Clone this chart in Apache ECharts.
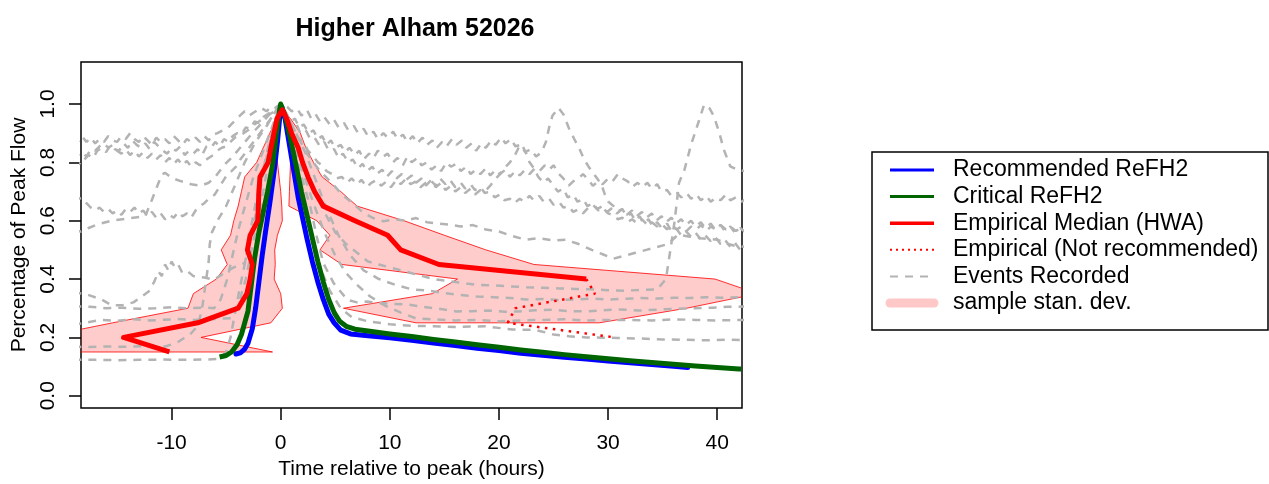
<!DOCTYPE html>
<html><head><meta charset="utf-8">
<script src="https://cdn.jsdelivr.net/npm/echarts@6/dist/echarts.min.js"></script>
<style>html,body{margin:0;padding:0;background:#fff}#c{width:1269px;height:484px}</style>
</head><body><div id="c"></div>
<script>
// ---------- data (hours relative to peak, fraction of peak flow) ----------
const chartTitle = 'Higher Alham 52026';
const xTicks = [-10, 0, 10, 20, 30, 40];
const yTicks = [0, 0.2, 0.4, 0.6, 0.8, 1.0];
const legendLabels = ['Recommended ReFH2','Critical ReFH2','Empirical Median (HWA)','Empirical (Not recommended)','Events Recorded','sample stan. dev.'];

const recommendedReFH2 = [[-4.1,0.143],[-3.7,0.147],[-3.3,0.16],[-3.0,0.18],[-2.6,0.23],[-2.3,0.3],[-2.0,0.39],[-1.7,0.48],[-1.4,0.56],[-1.0,0.66],[-0.6,0.77],[-0.3,0.87],[-0.1,0.95],[0.1,0.99],
 [0.4,0.95],[0.8,0.86],[1.2,0.77],[1.6,0.68],[2.0,0.61],[2.4,0.54],[2.9,0.46],[3.4,0.39],[3.9,0.33],[4.4,0.28],[4.9,0.25],[5.5,0.225],[6.4,0.212],[8,0.206],[10,0.199],[12,0.19],[14,0.181],[16,0.172],[18,0.163],[20,0.155],[22,0.146],[24,0.139],[26,0.132],[28,0.126],[30,0.119],[32,0.113],[34,0.107],[36,0.101],[37.3,0.097]];
const criticalReFH2 = [[-5.6,0.133],[-5.0,0.138],[-4.5,0.15],[-4.0,0.175],[-3.6,0.21],[-3.3,0.25],[-3.0,0.29],[-2.7,0.38],[-2.4,0.47],[-2.0,0.56],[-1.6,0.63],[-1.2,0.7],[-0.75,0.79],[-0.35,0.91],[-0.1,0.98],[0,1.0],
 [0.4,0.96],[0.9,0.88],[1.4,0.79],[1.9,0.7],[2.4,0.62],[2.9,0.54],[3.4,0.46],[3.9,0.39],[4.4,0.33],[4.9,0.285],[5.4,0.255],[6.0,0.238],[6.8,0.228],[8,0.222],[10,0.212],[12,0.203],[14,0.193],[16,0.184],[18,0.175],[20,0.166],[22,0.157],[24,0.149],[26,0.141],[28,0.134],[30,0.127],[32,0.12],[34,0.114],[36,0.108],[38,0.102],[40,0.097],[42,0.092],[42.2,0.0915]];

// empirical hydrograph: rising limb and falling limb at flow levels
const riseLevels = [0.15,0.20,0.25,0.30,0.35,0.40,0.45,0.50,0.55,0.60,0.65,0.70,0.75,0.80,0.85,0.90,0.95,0.98];
const riseMedian = [-10.2,-14.4,-7.6,-3.9,-3.1,-2.8,-2.6,-3.05,-2.8,-2.1,-2.05,-2.0,-1.9,-1.15,-0.9,-0.62,-0.34,0.15];
const riseLow    = [-19.7,-22.0,-15.4,-8.5,-8.0,-5.9,-4.9,-5.45,-4.6,-4.3,-3.9,-3.6,-3.3,-2.2,-1.6,-1.0,-0.35,0.15];
const riseHigh   = [-0.75,-7.3,-0.9,0.15,0.0,-0.6,-0.5,-0.55,-0.3,0.15,0.1,0.0,-0.15,-0.3,-0.45,-0.3,-0.1,0.15];
const fallLevels = [0.98,0.95,0.90,0.85,0.80,0.75,0.70,0.65,0.60,0.55,0.50,0.45,0.40,0.35,0.30,0.25,0.20];
const fallMedian = [0.15,0.55,1.0,1.6,2.0,2.5,3.1,3.9,6.8,9.8,11.0,14.5,28.0,28.8,21.5,20.8,30.6];
const fallLow    = [0.15,0.3,0.6,0.9,0.9,0.85,0.8,0.75,3.3,4.5,3.6,5.6,16.2,13.9,5.75,12.4,null];
const fallHigh   = [0.15,0.9,1.8,2.3,3.0,3.8,5.5,7.0,11.3,15.0,18.8,23.2,39.8,43.7,37.2,29.2,null];
const recommendedLowestLevel = 0.40;

// recorded events
const eventA = [[-19,0.124],[-17,0.123],[-15,0.122],[-13,0.123],[-11,0.124],[-9,0.123],[-7,0.124],[-5.6,0.126],[-5.0,0.15],[-4.6,0.2],[-4.2,0.28],[-3.8,0.36],[-3.3,0.45],[-2.8,0.56],[-2.3,0.66],[-1.7,0.76],[-1.1,0.86],[-0.5,0.94],[0,1.0],
 [0.6,0.93],[1.2,0.82],[2.0,0.68],[2.8,0.55],[3.6,0.44],[4.5,0.36],[5.5,0.3],[6.5,0.27],[8,0.255],[10,0.245],[12,0.24],[14,0.238],[16,0.236],[18.8,0.238],[21.2,0.227],[23.3,0.226],[25,0.21],[26.4,0.204],[28,0.2],[30.9,0.198],[33,0.196],[35,0.193],[37,0.192],[39,0.19],[41,0.192],[43,0.19]];
const eventB = [[-19,0.168],[-17.5,0.167],[-16,0.169],[-14.2,0.168],[-12.5,0.17],[-10.6,0.169],[-9.6,0.18],[-9.1,0.192],[-8.3,0.21],[-7.6,0.24],[-7.2,0.3],[-6.9,0.38],[-6.6,0.46],[-6.5,0.52],[-6.3,0.56],[-5.8,0.6],[-5.0,0.65],[-4.2,0.72],[-3.3,0.8],[-2.3,0.87],[-1.2,0.93],[-0.4,0.98],[0,1.0],
 [0.5,0.95],[1.2,0.86],[2,0.77],[3,0.66],[4,0.56],[5,0.48],[6,0.42],[7,0.38],[8.2,0.34],[9.5,0.31],[11,0.285],[12.4,0.265],[14,0.262],[16,0.258],[18,0.26],[20,0.255],[22,0.258],[24,0.26],[26,0.262],[28,0.258],[30,0.26],[32,0.26],[34,0.258],[36,0.262],[38,0.26],[40,0.258],[42,0.26],[43,0.26]];
const eventC = [[-19,0.243],[-18,0.25],[-16.4,0.26],[-15,0.257],[-13.5,0.262],[-12,0.258],[-10.9,0.26],[-9.5,0.263],[-8,0.26],[-6.8,0.262],[-5.6,0.264],[-4.5,0.266],[-3.9,0.31],[-3.2,0.4],[-2.4,0.55],[-1.6,0.7],[-0.9,0.85],[-0.3,0.95],[0,0.99],
 [0.5,0.93],[1.2,0.84],[2,0.74],[2.7,0.65],[3.3,0.546],[3.9,0.455],[4.85,0.386],[6.1,0.329],[7.0,0.32],[7.9,0.323],[9,0.318],[10.2,0.315],[11.8,0.312],[13,0.305],[14.5,0.298],[16.1,0.289],[17.5,0.29],[19,0.292],[20.5,0.288],[21.8,0.289],[23,0.292],[24.85,0.295],[26.5,0.29],[27.9,0.289],[29.5,0.293],[31,0.296],[32.8,0.292],[34.5,0.295],[36,0.298],[37.8,0.3],[39.5,0.302],[41,0.305],[43,0.306]];
const eventD = [[-19,0.306],[-17.5,0.305],[-16,0.3],[-14.5,0.302],[-13,0.298],[-11.5,0.3],[-10,0.303],[-8.5,0.3],[-7,0.302],[-6.1,0.3],[-5.5,0.33],[-4.9,0.4],[-4.3,0.5],[-3.8,0.58],[-3.2,0.66],[-2.5,0.75],[-1.7,0.83],[-0.9,0.91],[-0.3,0.97],[0,1.0],
 [0.6,0.96],[1.4,0.9],[2.3,0.83],[3.2,0.74],[4.2,0.64],[5.3,0.55],[6.4,0.48],[7.6,0.43],[9,0.4],[10.5,0.38],[12,0.365],[13.6,0.36],[15,0.352],[16.5,0.345],[18,0.34],[19.5,0.338],[21,0.335],[22.5,0.33],[24,0.332],[25.5,0.328],[27,0.33],[28.5,0.333],[30,0.33],[31.5,0.332],[33,0.335],[34.5,0.333],[36,0.336],[37.5,0.335],[39,0.338],[40.5,0.336],[42,0.338],[43,0.34]];
const eventE = [[-19,0.352],[-18,0.35],[-16.4,0.33],[-15.5,0.31],[-14.5,0.31],[-13.5,0.32],[-12.1,0.357],[-11.6,0.39],[-11.2,0.426],[-10.9,0.41],[-10.6,0.45],[-10.3,0.43],[-10.0,0.46],[-9.7,0.44],[-9.4,0.45],[-9.0,0.42],[-8.5,0.425],[-8,0.41],[-7,0.405],[-6.1,0.398],[-5.2,0.42],[-4.3,0.44],[-3.3,0.455],[-2.6,0.56],[-2,0.68],[-1.4,0.8],[-0.8,0.9],[-0.3,0.97],[0,1.0],
 [0.5,0.95],[1.2,0.88],[2,0.8],[3,0.71],[4,0.63],[5,0.56],[6,0.52],[7,0.49],[8,0.46],[9,0.45],[10,0.44],[11,0.43],[12,0.42],[13,0.41],[14,0.4],[15,0.395],[16,0.39],[17,0.385],[18,0.38],[19.5,0.378],[21,0.375],[22.5,0.372],[24,0.37],[25.5,0.368],[27,0.366],[28.5,0.365],[30,0.362],[31.5,0.36],[33,0.363],[34.5,0.364],[35.3,0.4],[35.5,0.45],[35.75,0.51],[36.1,0.6],[36.5,0.73],[37,0.775],[37.6,0.86],[38.3,0.94],[38.8,0.998],[39.3,0.985],[39.7,0.958],[40.2,0.9],[40.6,0.844],[41.2,0.786],[41.8,0.775],[42.5,0.77]];
const eventF = [[-19,0.565],[-18.3,0.563],[-17.6,0.575],[-16.8,0.587],[-15.5,0.6],[-14.5,0.605],[-13.5,0.61],[-12.4,0.615],[-12.1,0.645],[-11.8,0.672],[-11.3,0.72],[-10.9,0.758],[-10.6,0.764],[-9.9,0.745],[-9.1,0.735],[-8.2,0.725],[-7.3,0.72],[-6.6,0.73],[-6,0.75],[-5.2,0.79],[-4.4,0.82],[-3.5,0.86],[-2.6,0.9],[-1.6,0.94],[-0.7,0.98],[0,1.0],
 [0.6,0.96],[1.4,0.9],[2.4,0.83],[3.6,0.77],[4.85,0.723],[5.6,0.69],[6.4,0.666],[7.5,0.63],[8.4,0.61],[9.4,0.598],[10.4,0.605],[11.4,0.6],[12.4,0.609],[13.4,0.595],[14.4,0.59],[15.5,0.586],[16.5,0.58],[17.6,0.585],[18.8,0.57],[20,0.563],[21,0.55],[22.4,0.535],[23.6,0.54],[25,0.532],[26.1,0.535],[27.3,0.52],[28.5,0.5],[29.5,0.485],[30.5,0.47],[31.5,0.48],[32.5,0.49],[33.5,0.5],[34.5,0.51],[35.5,0.52],[36.4,0.552],[37.5,0.545],[38.5,0.54],[40,0.535],[41,0.52],[41.8,0.512],[43,0.51]];
const eventG = [[-19,0.68],[-18.6,0.675],[-18.2,0.678],[-17.8,0.66],[-17.4,0.645],[-17.0,0.635],[-16.6,0.645],[-16.2,0.63],[-15.8,0.64],[-15.4,0.625],[-15.0,0.635],[-14.6,0.62],[-14.2,0.64],[-13.8,0.63],[-13.4,0.645],[-13.0,0.625],[-12.6,0.635],[-12.2,0.615],[-11.8,0.63],[-11.4,0.61],[-11.0,0.625],[-10.6,0.605],[-10.2,0.62],[-9.8,0.61],[-9.4,0.63],[-9.0,0.615],[-8.6,0.625],[-8.2,0.61],[-7.8,0.635],[-7.4,0.65],[-7.0,0.66],[-6.6,0.675],[-6.06,0.689],[-5.7,0.71],[-5.3,0.735],[-4.9,0.758],[-4.5,0.77],[-4.1,0.785],[-3.7,0.81],[-3.3,0.83],[-2.9,0.85],[-2.5,0.87],[-2.1,0.89],[-1.7,0.91],[-1.3,0.93],[-0.9,0.95],[-0.5,0.97],[0,1.0],
 [0.5,0.95],[0.9,0.92],[1.3,0.9],[1.7,0.88],[2.1,0.87],[2.5,0.84],[3.0,0.82],[3.4,0.8],[3.8,0.79],[4.2,0.77],[4.7,0.76],[5.1,0.745],[5.6,0.75],[6.1,0.73],[6.5,0.745],[7.0,0.725],[7.4,0.74],[7.9,0.715],[8.3,0.73],[8.8,0.74],[9.2,0.72],[9.7,0.735],[10.1,0.715],[10.6,0.74],[11.0,0.725],[11.5,0.745],[11.9,0.725],[12.4,0.735],[12.8,0.715],[13.3,0.73],[13.7,0.74],[14.2,0.72],[14.6,0.745],[15.1,0.725],[15.5,0.74],[16.0,0.715],[16.5,0.73],[16.9,0.71],[17.4,0.725],[17.8,0.705],[18.3,0.715],[18.7,0.695],[19.2,0.7],[19.6,0.68],[20.1,0.69],[20.5,0.67],[21.0,0.675],[21.4,0.66],[21.9,0.675],[22.3,0.665],[22.8,0.685],[23.2,0.67],[23.7,0.685],[24.1,0.665],[24.6,0.675],[25.0,0.655],[25.5,0.665],[25.9,0.645],[26.4,0.65],[26.8,0.63],[27.3,0.64],[27.7,0.625],[28.2,0.645],[28.6,0.655],[29.1,0.635],[29.5,0.645],[30.0,0.625],[30.4,0.62],[30.9,0.605],[31.3,0.61],[31.8,0.595],[32.2,0.605],[32.7,0.59],[33.1,0.605],[33.6,0.585],[34.0,0.595],[34.5,0.58],[34.9,0.59],[35.4,0.57],[35.8,0.585],[36.3,0.57],[36.7,0.58],[37.2,0.565],[37.6,0.58],[38.1,0.57],[38.5,0.585],[39.0,0.565],[39.4,0.58],[39.9,0.57],[40.3,0.585],[40.8,0.57],[41.2,0.58],[41.7,0.565],[42.2,0.575],[42.7,0.565]];
const eventH = [[-19,0.795],[-18.6,0.8],[-18.3,0.792],[-18.0,0.81],[-17.6,0.825],[-17.2,0.815],[-16.8,0.84],[-16.4,0.85],[-16.0,0.835],[-15.6,0.86],[-15.2,0.845],[-14.8,0.84],[-14.4,0.865],[-14.0,0.85],[-13.6,0.875],[-13.2,0.86],[-12.8,0.85],[-12.4,0.865],[-12.0,0.845],[-11.6,0.87],[-11.2,0.855],[-10.8,0.84],[-10.4,0.83],[-10.0,0.85],[-9.6,0.84],[-9.2,0.855],[-8.8,0.825],[-8.4,0.84],[-8.0,0.83],[-7.6,0.845],[-7.2,0.825],[-6.8,0.855],[-6.4,0.85],[-6.0,0.87],[-5.6,0.855],[-5.2,0.88],[-4.8,0.87],[-4.4,0.89],[-4.0,0.9],[-3.6,0.895],[-3.2,0.92],[-2.8,0.915],[-2.4,0.94],[-2.0,0.935],[-1.6,0.955],[-1.2,0.965],[-0.8,0.975],[-0.4,0.99],[0,1.0],
 [0.5,0.97],[0.9,0.94],[1.3,0.95],[1.7,0.92],[2.1,0.93],[2.6,0.9],[3.0,0.91],[3.4,0.88],[3.8,0.89],[4.2,0.86],[4.6,0.875],[5.0,0.85],[5.5,0.86],[5.9,0.835],[6.3,0.85],[6.8,0.825],[7.2,0.84],[7.6,0.81],[8.1,0.83],[8.5,0.815],[8.9,0.84],[9.4,0.82],[9.8,0.83],[10.3,0.8],[10.7,0.815],[11.2,0.79],[11.6,0.82],[12.0,0.8],[12.5,0.815],[12.9,0.79],[13.4,0.8],[13.8,0.775],[14.3,0.79],[14.7,0.77],[15.2,0.8],[15.6,0.785],[16.1,0.795],[16.5,0.77],[17.0,0.785],[17.4,0.76],[17.9,0.775],[18.3,0.76],[18.8,0.78],[19.2,0.755],[19.7,0.775],[20.1,0.76],[20.6,0.775],[21.0,0.75],[21.5,0.77],[21.9,0.755],[22.4,0.775],[22.8,0.76],[23.3,0.78],[23.7,0.77],[24.2,0.79],[24.6,0.775],[25.0,0.79],[25.5,0.76],[25.9,0.745],[26.4,0.72],[26.8,0.735],[27.3,0.745],[27.7,0.76],[28.2,0.74],[28.6,0.72],[29.1,0.735],[29.5,0.725],[30.0,0.745],[30.4,0.735],[30.9,0.76],[31.3,0.745],[31.8,0.735],[32.2,0.715],[32.7,0.73],[33.1,0.715],[33.6,0.73],[34.0,0.71],[34.5,0.725],[34.9,0.7],[35.4,0.705],[35.8,0.685],[36.3,0.695],[36.7,0.68],[37.2,0.695],[37.6,0.675],[38.1,0.69],[38.5,0.67],[39.0,0.685],[39.4,0.665],[39.9,0.68],[40.3,0.67],[40.8,0.69],[41.2,0.67],[41.7,0.68],[42.2,0.665],[42.7,0.675]];
const eventI = [[-19,0.885],[-18.6,0.87],[-18.2,0.889],[-17.8,0.87],[-17.4,0.885],[-17.0,0.865],[-16.6,0.88],[-16.2,0.87],[-15.8,0.89],[-15.4,0.875],[-15.0,0.87],[-14.6,0.89],[-14.2,0.88],[-13.8,0.9],[-13.4,0.88],[-13.0,0.87],[-12.6,0.89],[-12.2,0.875],[-11.8,0.86],[-11.4,0.885],[-11.0,0.87],[-10.6,0.88],[-10.2,0.865],[-9.8,0.89],[-9.4,0.875],[-9.0,0.86],[-8.6,0.88],[-8.2,0.87],[-7.8,0.885],[-7.4,0.87],[-7.0,0.89],[-6.6,0.875],[-6.2,0.895],[-5.8,0.9],[-5.3,0.91],[-4.85,0.918],[-4.4,0.935],[-4.0,0.95],[-3.6,0.965],[-3.3,0.975],[-2.9,0.96],[-2.5,0.97],[-2.1,0.98],[-1.8,0.987],[-1.3,0.975],[-0.9,0.99],[-0.4,0.985],[0,1.0],
 [0.6,0.99],[1.0,0.975],[1.5,0.985],[1.9,0.96],[2.4,0.98],[2.8,0.95],[3.2,0.965],[3.6,0.94],[4.0,0.955],[4.5,0.93],[4.9,0.945],[5.3,0.92],[5.8,0.935],[6.2,0.91],[6.7,0.925],[7.1,0.9],[7.6,0.915],[8.0,0.89],[8.5,0.905],[8.9,0.88],[9.4,0.9],[9.8,0.885],[10.3,0.905],[10.7,0.88],[11.2,0.895],[11.6,0.87],[12.1,0.89],[12.5,0.865],[13.0,0.885],[13.4,0.86],[13.9,0.875],[14.3,0.85],[14.8,0.87],[15.2,0.855],[15.7,0.88],[16.1,0.86],[16.6,0.875],[17.0,0.85],[17.5,0.865],[17.9,0.84],[18.4,0.865],[18.8,0.85],[19.3,0.875],[19.7,0.86],[20.2,0.885],[20.6,0.865],[21.1,0.88],[21.5,0.855],[22.0,0.86],[22.4,0.835],[22.9,0.845],[23.4,0.82],[23.9,0.835],[24.3,0.87],[24.6,0.92],[24.9,0.96],[25.45,0.987],[25.9,0.965],[26.4,0.918],[26.9,0.88],[27.4,0.844],[27.8,0.81],[28.2,0.786],[28.6,0.765],[28.95,0.747],[29.4,0.723],[29.7,0.69],[30,0.666],[30.5,0.65],[30.9,0.632],[31.3,0.64],[31.7,0.615],[32.1,0.625],[32.5,0.6],[32.9,0.615],[33.3,0.59],[33.7,0.605],[34.1,0.58],[34.5,0.595],[34.9,0.575],[35.4,0.59],[35.8,0.565],[36.2,0.575],[36.7,0.55],[37.1,0.565],[37.6,0.545],[38.0,0.56],[38.5,0.535],[38.9,0.55],[39.4,0.53],[39.8,0.545],[40.3,0.52],[40.7,0.535],[41.2,0.51],[41.6,0.525],[42.1,0.5],[42.6,0.515]];
const eventJ = [[-19,0.84],[-18.6,0.825],[-18.2,0.835],[-17.8,0.82],[-17.4,0.845],[-17.0,0.84],[-16.6,0.855],[-16.2,0.865],[-15.8,0.85],[-15.4,0.86],[-15.0,0.84],[-14.6,0.83],[-14.2,0.845],[-13.8,0.825],[-13.4,0.84],[-13.0,0.82],[-12.6,0.835],[-12.2,0.815],[-11.8,0.83],[-11.4,0.81],[-11.0,0.825],[-10.6,0.8],[-10.2,0.815],[-9.8,0.795],[-9.4,0.81],[-9.0,0.79],[-8.6,0.805],[-8.2,0.785],[-7.8,0.8],[-7.4,0.79],[-7.0,0.805],[-6.6,0.815],[-6.2,0.825],[-5.8,0.84],[-5.4,0.85],[-5.0,0.855],[-4.6,0.87],[-4.2,0.885],[-3.8,0.89],[-3.4,0.9],[-3.0,0.91],[-2.6,0.925],[-2.2,0.935],[-1.8,0.945],[-1.4,0.955],[-1.0,0.965],[-0.6,0.975],[-0.2,0.99],[0,0.99],
 [0.6,0.95],[1.0,0.93],[1.4,0.935],[1.8,0.9],[2.3,0.91],[2.7,0.88],[3.1,0.885],[3.6,0.855],[4.0,0.87],[4.4,0.84],[4.9,0.845],[5.3,0.815],[5.7,0.83],[6.2,0.8],[6.6,0.81],[7.1,0.78],[7.5,0.795],[7.9,0.77],[8.4,0.785],[8.8,0.76],[9.3,0.775],[9.7,0.75],[10.2,0.77],[10.6,0.745],[11.1,0.76],[11.5,0.74],[12.0,0.755],[12.4,0.73],[12.9,0.745],[13.3,0.72],[13.8,0.74],[14.2,0.715],[14.7,0.73],[15.1,0.705],[15.6,0.72],[16.0,0.7],[16.5,0.715],[16.9,0.695],[17.4,0.71],[17.8,0.69],[18.3,0.705],[18.7,0.7],[19.2,0.72],[19.6,0.74],[20.1,0.76],[20.5,0.78],[21.0,0.8],[21.4,0.82],[21.8,0.85],[22.1,0.861],[22.5,0.83],[22.8,0.8],[23.2,0.78],[23.6,0.75],[24.1,0.73],[24.5,0.745],[25.0,0.72],[25.4,0.7],[25.9,0.71],[26.3,0.68],[26.8,0.69],[27.2,0.665],[27.7,0.675],[28.1,0.65],[28.6,0.66],[29.0,0.64],[29.5,0.65],[29.9,0.63],[30.4,0.645],[30.8,0.625],[31.3,0.64],[31.7,0.62],[32.2,0.635],[32.6,0.615],[33.1,0.63],[33.5,0.61],[34.0,0.625],[34.4,0.6],[34.9,0.615],[35.3,0.595],[35.8,0.61],[36.2,0.59],[36.7,0.605],[37.1,0.585],[37.6,0.6],[38.0,0.58],[38.5,0.595],[38.9,0.575],[39.4,0.59],[39.8,0.57],[40.3,0.585],[40.7,0.565],[41.2,0.58],[41.6,0.56],[42.1,0.575],[42.6,0.56]];
const events = [eventA, eventB, eventC, eventD, eventE, eventF, eventG, eventH, eventI, eventJ];

// ---------- derived ----------
const medianSolid = [];
riseLevels.forEach((lv, i) => medianSolid.push([riseMedian[i], lv]));
const medianDotted = [];
fallLevels.forEach((lv, i) => {
  if (i === 0) return;
  if (lv >= recommendedLowestLevel) medianSolid.push([fallMedian[i], lv]);
  if (lv <= recommendedLowestLevel) medianDotted.push([fallMedian[i], lv]);
});
const bandPts = [];
riseLevels.forEach((lv, i) => bandPts.push([riseLow[i], lv]));
fallLevels.forEach((lv, i) => { if (i > 0 && fallLow[i] != null) bandPts.push([fallLow[i], lv]); });
for (let i = fallLevels.length - 1; i > 0; i--) if (fallHigh[i] != null) bandPts.push([fallHigh[i], fallLevels[i]]);
for (let i = riseLevels.length - 1; i >= 0; i--) bandPts.push([riseHigh[i], riseLevels[i]]);

// ---------- chart ----------
const FONT = "'Liberation Sans', Arial, Helvetica, sans-serif";
const GRAY = '#b3b3b3', PINK = 'rgba(255,0,0,0.2)';
const chart = echarts.init(document.getElementById('c'), null, {renderer: 'canvas'});

const series = [];
series.push({
  type: 'custom', name: 'sample stan. dev.', z: 1, silent: true,
  data: [[0, 0]],
  renderItem: function (params, api) {
    const pts = bandPts.map(p => api.coord(p));
    const cs = params.coordSys;
    return {
      type: 'polygon', shape: {points: pts},
      clipPath: {type: 'rect', shape: {x: cs.x, y: cs.y, width: cs.width, height: cs.height}},
      style: {fill: PINK, stroke: 'rgba(255,0,0,0.8)', lineWidth: 1}
    };
  }
});
events.forEach((ev) => series.push({
  type: 'line', name: 'Events Recorded', data: ev, z: 2, symbol: 'none', silent: true,
  lineStyle: {color: GRAY, width: 2.5, type: [8, 7]}
}));
series.push({type: 'line', name: 'Recommended ReFH2', data: recommendedReFH2, z: 3, symbol: 'none',
  lineStyle: {color: '#0000ff', width: 5, cap: 'round', join: 'round'}});
series.push({type: 'line', name: 'Critical ReFH2', data: criticalReFH2, z: 4, symbol: 'none',
  lineStyle: {color: '#006400', width: 5, cap: 'butt', join: 'round'}});
series.push({type: 'line', name: 'Empirical Median (HWA)', data: medianSolid, z: 5, symbol: 'none',
  lineStyle: {color: '#ff0000', width: 5, cap: 'butt', join: 'round'}});
series.push({type: 'line', name: 'Empirical (Not recommended)', data: medianDotted, z: 5, symbol: 'none',
  lineStyle: {color: '#ff0000', width: 2.5, type: [2.5, 5.5]}});

// legend drawn as graphics
const LX = 872, LY = 152, LW = 396, LH = 178;
const rowY = [170, 196.6, 223.2, 249.8, 276.4, 303];
const legendStyles = [
  {stroke: '#0000ff', lineWidth: 3},
  {stroke: '#006400', lineWidth: 3},
  {stroke: '#ff0000', lineWidth: 3.5},
  {stroke: '#ff0000', lineWidth: 2, lineDash: [2, 4]},
  {stroke: GRAY, lineWidth: 2, lineDash: [8, 7]},
  {stroke: '#ffc8c8', lineWidth: 9, lineCap: 'round'}
];
const graphics = [{type: 'rect', shape: {x: LX, y: LY, width: LW, height: LH}, style: {fill: '#fff', stroke: '#000', lineWidth: 1.5}, z: 10}];
legendLabels.forEach((lab, i) => {
  graphics.push({type: 'line', shape: {x1: 890, y1: rowY[i], x2: 934, y2: rowY[i]}, style: legendStyles[i], z: 11});
  graphics.push({type: 'text', x: 953, y: rowY[i], z: 11,
    style: {text: lab, fontSize: 23, fontFamily: FONT, fill: '#000', verticalAlign: 'middle', align: 'left'}});
});

chart.setOption({
  animation: false,
  backgroundColor: '#fff',
  title: {text: chartTitle, left: 410, top: 12, textAlign: 'center',
    textStyle: {fontFamily: FONT, fontSize: 25, fontWeight: 'bold', color: '#000'}},
  grid: {left: 81, top: 62, width: 661, height: 346, show: true, borderColor: '#000', borderWidth: 1.5,
    backgroundColor: 'transparent', containLabel: false, outerBoundsMode: 'none'},
  xAxis: {type: 'value', min: -18.3, max: 42.27, position: 'bottom',
    name: 'Time relative to peak (hours)', nameLocation: 'middle', nameGap: 51,
    nameTextStyle: {fontFamily: FONT, fontSize: 21, color: '#000'},
    axisLine: {show: false, onZero: false}, splitLine: {show: false},
    axisTick: {show: true, inside: false, length: 12, customValues: xTicks, lineStyle: {color: '#000', width: 1.5}},
    axisLabel: {show: true, customValues: xTicks, margin: 25, fontFamily: FONT, fontSize: 21, color: '#000',
      formatter: v => String(v)}},
  yAxis: {type: 'value', min: -0.042, max: 1.144, position: 'left',
    name: 'Percentage of Peak Flow', nameLocation: 'middle', nameGap: 45, nameRotate: 90,
    nameTextStyle: {fontFamily: FONT, fontSize: 21, color: '#000'},
    axisLine: {show: false, onZero: false}, splitLine: {show: false},
    axisTick: {show: true, inside: false, length: 12, customValues: yTicks, lineStyle: {color: '#000', width: 1.5}},
    axisLabel: {show: true, customValues: yTicks, rotate: 90, margin: 22, fontFamily: FONT, fontSize: 21, color: '#000',
      formatter: v => v.toFixed(1)}},
  series: series,
  graphic: graphics
});
</script></body></html>
